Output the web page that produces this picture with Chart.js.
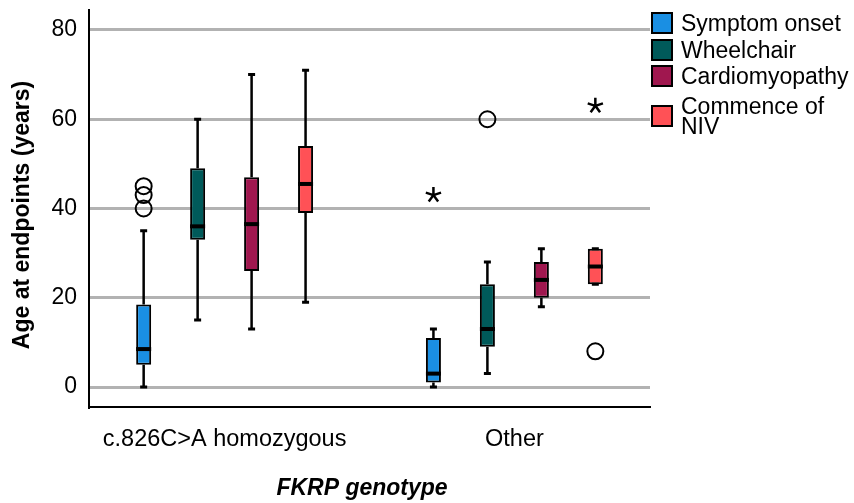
<!DOCTYPE html>
<html>
<head>
<meta charset="utf-8">
<script src="https://cdn.jsdelivr.net/npm/chart.js@4.4.0/dist/chart.umd.min.js"></script>
<style>
  body { margin: 0; background: #fff; font-family: "Liberation Sans", Arial, sans-serif; }
  #wrap { position: relative; width: 854px; height: 503px; }
  #legend { position: absolute; left: 651px; top: 10px; width: 203px; }
  .row { display: flex; align-items: center; height: 26.5px; font-size: 23px; line-height: 20px; color: #000; }
  .row.tall { height: 52px; }
  .swatch { width: 22px; height: 22px; box-sizing: border-box; border: 2px solid #000; margin-right: 8px; flex: none; }
</style>
</head>
<body>
<div id="wrap">
  <canvas id="chartBox" width="854" height="503"></canvas>
  <div id="legend"></div>
</div>
<script>
const genotypes = ["c.826C>A homozygous", "Other"];
const endpoints = ["Symptom onset", "Wheelchair", "Cardiomyopathy", "Commence of NIV"];
const colors = ["#1a8fe3", "#005a5a", "#a0174f", "#ff5156"];
const yTicks = [0, 20, 40, 60, 80];
const xTitle = "FKRP genotype";
const yTitle = "Age at endpoints (years)";

// one pair per endpoint: [homozygous, other]
const whiskerLow  = [[0, 0],    [15, 3],  [13, 18],   [19, 23]];
const q1          = [[5, 1],    [33, 9],  [26, 20],   [39, 23]];
const median      = [[8.5, 3],  [36, 13], [36.5, 24], [45.5, 27]];
const q3          = [[18.5, 11],[49, 23], [47, 28],   [54, 31]];
const whiskerHigh = [[35, 13],  [60, 28], [70, 31],   [71, 31]];
// circles and stars
const outliers = [[[40, 43, 45], []], [[], [60]], [[], []], [[], [8]]];
const extremes = [[[], [43]],         [[], []],   [[], []], [[], [63]]];

const font = '"Liberation Sans", Arial, sans-serif';

// whiskers, medians and outliers drawn on top of the floating bars
const boxPlotParts = {
  id: 'boxPlotParts',
  afterDatasetsDraw(chart) {
    const ctx = chart.ctx;
    const y = chart.scales.y;
    ctx.save();
    ctx.strokeStyle = '#000';
    ctx.fillStyle = '#000';
    chart.data.datasets.forEach((ds, d) => {
      const meta = chart.getDatasetMeta(d);
      meta.data.forEach((bar, g) => {
        const x = bar.x;
        const half = bar.width / 2;
        const yHi = y.getPixelForValue(whiskerHigh[d][g]);
        const yLo = y.getPixelForValue(whiskerLow[d][g]);

        ctx.lineWidth = 2.5;
        ctx.beginPath();
        ctx.moveTo(x, y.getPixelForValue(q3[d][g]));
        ctx.lineTo(x, yHi);
        ctx.moveTo(x, y.getPixelForValue(q1[d][g]));
        ctx.lineTo(x, yLo);
        ctx.stroke();

        ctx.lineWidth = 3;
        ctx.beginPath();
        ctx.moveTo(x - 3.5, yHi); ctx.lineTo(x + 3.5, yHi);
        ctx.moveTo(x - 3.5, yLo); ctx.lineTo(x + 3.5, yLo);
        ctx.stroke();

        const ym = y.getPixelForValue(median[d][g]);
        ctx.fillRect(x - half, ym - 2, half * 2, 4);

        ctx.lineWidth = 2;
        outliers[d][g].forEach(v => {
          ctx.beginPath();
          ctx.arc(x, y.getPixelForValue(v), 8, 0, Math.PI * 2);
          ctx.stroke();
        });

        ctx.lineWidth = 2.5;
        extremes[d][g].forEach(v => {
          const cy = y.getPixelForValue(v);
          ctx.beginPath();
          for (let k = 0; k < 5; k++) {
            const a = -Math.PI / 2 + k * 2 * Math.PI / 5;
            ctx.moveTo(x, cy);
            ctx.lineTo(x + 8 * Math.cos(a), cy + 8 * Math.sin(a));
          }
          ctx.stroke();
        });
      });
    });
    ctx.restore();
  },
  // axis titles, placed a bit off the plot centre like the original
  afterDraw(chart) {
    const ctx = chart.ctx;
    ctx.save();
    ctx.fillStyle = '#000';
    ctx.textAlign = 'center';
    ctx.font = 'italic bold 23px ' + font;
    ctx.textBaseline = 'alphabetic';
    ctx.fillText(xTitle, 362, 495);
    ctx.translate(23, 215);
    ctx.rotate(-Math.PI / 2);
    ctx.font = 'bold 23px ' + font;
    ctx.textBaseline = 'middle';
    ctx.fillText(yTitle, 0, 0);
    ctx.restore();
  }
};

new Chart(document.getElementById('chartBox'), {
  type: 'bar',
  data: {
    datasets: endpoints.map((name, d) => ({
      label: name,
      data: genotypes.map((_, g) => ({ x: g, y: [q1[d][g], q3[d][g]] })),
      backgroundColor: colors[d],
      borderColor: '#000',
      borderWidth: 2,
      borderSkipped: false,
      categoryPercentage: 0.745,
      barPercentage: 0.278
    }))
  },
  options: {
    responsive: false,
    animation: false,
    layout: { padding: { top: 10, right: 204, left: 0, bottom: 0 } },
    plugins: { legend: { display: false }, tooltip: { enabled: false } },
    scales: {
      x: {
        type: 'linear',
        offset: false,
        min: -0.468,
        max: 1.468,
        afterBuildTicks: s => { s.ticks = genotypes.map((_, g) => ({ value: g })); },
        afterFit: s => { s.height = 96; s.paddingLeft = 0; s.paddingRight = 0; },
        grid: { display: false, offset: false },
        border: { color: '#000', width: 2 },
        ticks: {
          callback: v => genotypes[v],
          autoSkip: false, maxRotation: 0,
          padding: 10, color: '#000',
          font: { family: font, size: 23.5 }
        }
      },
      y: {
        min: -4.48,
        max: 84.48,
        afterBuildTicks: s => { s.ticks = yTicks.map(v => ({ value: v })); },
        afterFit: s => { s.width = 89; s.paddingTop = 0; s.paddingBottom = 0; },
        grid: { color: '#b2b2b2', lineWidth: 3, drawTicks: false },
        border: { color: '#000', width: 2 },
        ticks: { padding: 12, color: '#000', font: { family: font, size: 23 } }
      }
    }
  },
  plugins: [boxPlotParts]
});

// legend
const legend = document.getElementById('legend');
endpoints.forEach((name, d) => {
  const row = document.createElement('div');
  row.className = 'row' + (d === endpoints.length - 1 ? ' tall' : '');
  const sw = document.createElement('div');
  sw.className = 'swatch';
  sw.style.background = colors[d];
  const label = document.createElement('span');
  label.textContent = name;
  row.appendChild(sw);
  row.appendChild(label);
  legend.appendChild(row);
});
</script>
</body>
</html>
